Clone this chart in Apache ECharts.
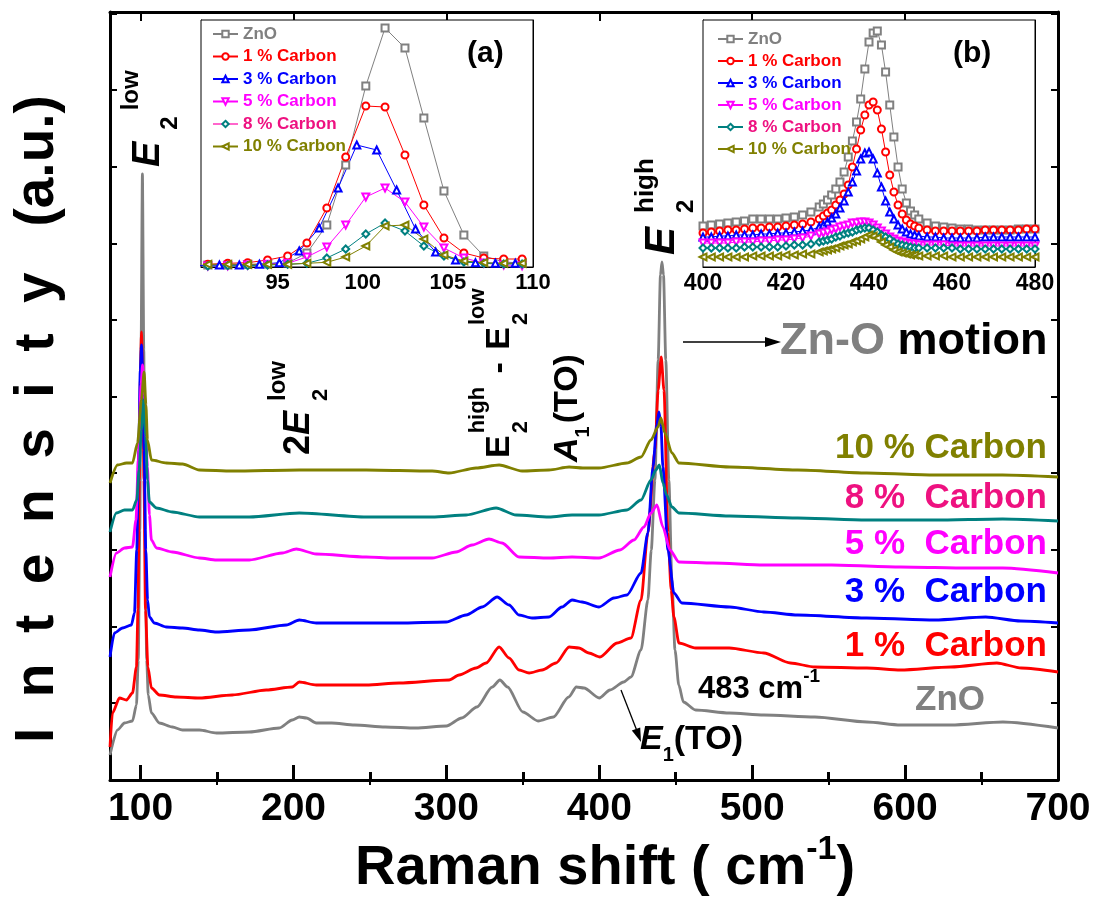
<!DOCTYPE html>
<html><head><meta charset="utf-8">
<script src="https://cdn.jsdelivr.net/npm/echarts@6/dist/echarts.min.js"></script>
<style>html,body{margin:0;padding:0;background:#fff}#c{width:1096px;height:905px}</style>
</head><body><div id="c"></div>
<script>
const FONT = "'Liberation Sans', Arial, Helvetica, sans-serif";

// ---- main Raman spectra: [Raman shift (cm-1), intensity (a.u., offset)] ----
const mainZnO = [[80,25],[84.9,50],[89.5,57],[94.7,59],[97.3,75],[98.5,120],[99.5,250],[100.3,430],[101.2,606],[102.1,430],[102.9,250],[104,120],[105,85],[107.1,67],[112.3,57],[120.8,53],[127.4,50],[138.5,50],[149.6,47],[171.1,48],[190.7,52],[199.2,60],[203.8,63],[208.5,62],[214.9,57],[225,57],[240,55],[260,53],[280,52],[300,54],[310,62],[320,73],[330,93],[335,100],[340,93],[350,68],[360,59],[370,63],[380,83],[385,93],[390,92],[400,82],[407,90],[416,98],[420.7,103],[427.3,130],[431.8,180],[434,230],[436.4,300],[438.5,420],[440,505],[441,518],[442,505],[443.5,420],[445.5,300],[447.5,200],[449.5,130],[452,95],[455,78],[463,70],[485,67],[507.6,65],[541,63],[575,58],[597,55],[630,55],[664,58],[700,52]];
const mainC1 = [[80,33],[81.6,67],[86.2,82],[90.8,80],[94.7,87],[97.3,113],[98.3,170],[99.2,300],[99.8,400],[100.6,448],[101.4,400],[102.2,300],[103.2,170],[104.8,113],[107.1,92],[112.3,85],[123.4,83],[138.5,82],[160,85],[182.2,90],[199.2,93],[203.8,98],[214.9,95],[247.6,95],[269.1,97],[301.8,100],[308.3,105],[319.4,112],[326,117],[334.5,133],[341,122],[347.5,110],[354.1,107],[362.6,110],[371.7,117],[380.3,133],[386.7,132],[393.2,127],[400.4,123],[411.6,137],[420.7,142],[427.3,180],[431.8,247],[436.4,330],[438.5,390],[440.5,423],[442.3,390],[444.9,247],[447,190],[448.8,163],[452.1,137],[463,132],[485,132],[507.6,127],[525,117],[541,113],[575,112],[597,110],[630,113],[660,117],[676,112],[700,108]];
const mainC3 = [[80,123],[82.9,147],[88.2,152],[94,155],[96,167],[97.5,230],[98.8,330],[99.8,410],[100.6,435],[101.4,410],[102.3,330],[103.4,230],[104.6,180],[105.8,163],[109,157],[116.9,153],[127.4,152],[138.5,150],[149.6,148],[171.1,150],[195.3,155],[203.8,160],[214.9,157],[247.6,157],[269.1,157],[299.8,158],[312.9,165],[323.4,173],[333.2,183],[341,175],[347.5,165],[356,162],[367.1,163],[375.6,173],[382.2,180],[388.7,178],[399.8,173],[409.6,182],[418.1,185],[427.3,207],[431.8,247],[435.1,313],[437.6,355],[439,368],[440.3,355],[441.6,313],[444.9,230],[448.8,187],[454,177],[485.4,173],[507.6,168],[529.8,165],[574.9,162],[619.4,160],[652.7,163],[675.6,159],[700,157]];
const mainC5 = [[80,203],[84.2,227],[89.5,232],[94.7,233],[97,260],[98.5,320],[100.3,395],[101.3,415],[102.5,385],[104.5,313],[105.8,265],[107.1,240],[110.4,232],[120.8,228],[138.5,222],[149.6,220],[171.1,220],[192.7,227],[201.8,231],[214.9,226],[247.6,223],[264.6,222],[290.7,222],[306.4,228],[316.8,235],[327.9,241],[336.4,237],[347.5,223],[367.1,222],[382.2,223],[399.8,222],[413.5,230],[422.7,240],[429.2,253],[433.8,267],[437.7,275],[441.6,253],[446.2,230],[452.1,218],[474.3,217],[507.6,215],[552,215],[597.1,213],[641.6,212],[663.8,212],[700,207]];
const mainC8 = [[80,248],[84.2,267],[89.5,270],[94.7,270],[97.5,280],[99,310],[100.5,350],[101.9,380],[103.3,345],[104.5,300],[105.8,278],[110.4,272],[120.8,268],[138.5,263],[171.1,263],[203.8,267],[247.6,263],[290.7,263],[312.9,265],[332.5,272],[345.6,265],[367.1,263],[382.2,265],[399.8,265],[418.1,270],[427.3,280],[433.8,300],[437,310],[439.3,315],[441.6,297],[444,285],[447.5,273],[452.1,267],[485.4,264],[529.8,262],[574.9,260],[619.4,260],[663.8,261],[700,259]];
const mainC10 = [[80,297],[84.9,315],[90.8,317],[94.7,317],[98,337],[100.5,380],[102.3,408],[103.5,375],[104.5,340],[107.1,320],[116.9,317],[127.4,316],[138.5,310],[160,309],[203.8,310],[247.6,310],[290.7,309],[301.8,307],[319.4,312],[334.5,315],[349.5,309],[367.1,310],[380.3,313],[389.3,312],[399.8,312],[418.1,317],[427.3,323],[433.8,340],[438.4,353],[440.3,362],[442.9,347],[447.5,327],[452.1,317],[485.4,313],[529.8,310],[574.9,307],[619.4,305],[663.8,305],[700,303]];

// ---- inset (a): E2 low region ----
const xA = [90.9,92.07,93.24,94.41,95.59,96.72,97.89,99.0,100.18,101.31,102.48,103.59,104.77,105.94,107.11,108.28,109.36];
const xA3 = [90.41,91.58,92.75,93.93,95.1,96.27,97.44,98.55,99.65,100.82,101.99,103.1,104.28,105.45,106.62,107.79,108.96];
const aZnO = [2,2,2.5,3,4,14,42,102,181,239,219,149,76,32,11,5,4];
const aC1  = [2.7,3.7,4.3,7,11,24,59,110,161,160,112,62,29,14,9,8,8];
const aC3  = [1.3,2,2,2.7,4.3,16,39,79,122,117,77,38,15,7,4.3,3.7,3.7];
const aC5  = [1,1.3,2,2.7,3.7,10,20,42,70,79,65,40,19,9,4,2,1.3];
const aC8  = [1,1.3,1.3,2,2.7,3.7,9,18,33,44,36,21,11,5,3.7,3,3];
const aC10 = [2.7,2.7,2.7,2.7,2.7,3.7,4.7,10,21,41,42,28,12,6,4.3,3.7,3.7];

// ---- inset (b): E2 high region ----
const xB = [400,402,404,406,408,410,412,414,416,418,420,422,424,426,428,
  429,430,431,432,433,434,435,436,437,438,439,440,441,442,443,444,445,446,447,448,449,450,451,452,
  454,456,458,460,462,464,466,468,470,472,474,476,478,480];
const bZnO = [41,42,43,44,45,46,48,48,48,48,49,50,52,55,60,
  63,67,72,78,85,95,110,126,145,168,198,225,234,236,222,195,162,130,100,78,64,56,52,48,
  44,41,40,39,38,38,37,37,37,37,37,38,38,38];
const bC1 = [34,35,36,37,37,38,39,39,40,40,41,42,43,45,48,
  51,54,57,62,67,73,82,100,118,137,152,162,165,157,138,115,92,75,62,53,47,43,41,39,
  37,36,36,36,36,36,36,37,37,37,37,37,38,38];
const bC3 = [30,30,31,31,32,32,32,33,33,34,34,35,36,37,40,
  42,45,49,53,59,66,75,85,96,108,114,115,108,94,80,66,55,48,42,38,35,33,32,31,
  30,30,29,29,29,29,29,30,30,30,30,30,30,30];
const bC5 = [24,24,24,24,25,25,25,26,26,27,27,28,29,31,33,
  34,35,37,38,40,41,42,44,44,45,45,44,42,39,36,33,30,28,26,25,24,23,23,22,
  22,22,22,21,21,21,21,21,21,21,21,21,21,21];
const bC8 = [19,19,19,19,19,20,20,20,20,20,21,22,22,23,25,
  26,27,28,30,31,33,34,35,37,38,39,39,37,35,32,30,28,25,23,22,21,20,19,19,
  19,19,19,19,18,18,18,18,18,18,18,18,18,18];
const bC10 = [10,10,10,10,10,10,11,11,11,11,12,12,13,13,15,
  16,17,18,19,21,22,23,25,26,28,30,32,31,29,25,22,20,17,15,14,13,12,12,11,
  11,11,11,10,10,10,10,10,10,10,10,10,10,10];

// ---- ticks ----
const xTicksMain = [100,200,300,400,500,600,700];
const xMinorMain = [150,250,350,450,550,650];
const yTicksMain = [77,153,230,307,383,460,536,613,690,766];
const xTicksA = [95,100,105,110];
const yTicksA = [9,42,74,107,140,174,207,240];
const xLabelsB = [400,420,440,460,480];
const xTicksB = [400,410,420,430,440,450,460,470,480];
const yTicksB = [5,40,74,109,144,178,212,247];

const NAMES = ['ZnO','1 % Carbon','3 % Carbon','5 % Carbon','8 % Carbon','10 % Carbon'];
const COLORS = ['#808080','#ff0000','#0000ff','#ff00ff','#008080','#808000'];
const TXTCOL = ['#808080','#ff0000','#0000ff','#ff00ff','#ee1180','#808000'];
const SYMB = ['emptyRect','emptyCircle','emptyTriangle','emptyTriangle','emptyDiamond','emptyTriangle'];
const SROT = [0,0,0,180,0,90];

const zip = (xs, ys) => xs.map((x, i) => [x, ys[i]]);
const mainData = [mainZnO, mainC1, mainC3, mainC5, mainC8, mainC10];
const aData = [zip(xA,aZnO), zip(xA,aC1), zip(xA3,aC3), zip(xA,aC5), zip(xA,aC8), zip(xA,aC10)];
const bData = [bZnO,bC1,bC3,bC5,bC8,bC10].map(v => zip(xB, v));

const series = [];
mainData.forEach((d, i) => series.push({
  type: 'line', name: NAMES[i] + ' spectrum', xAxisIndex: 0, yAxisIndex: 0, data: d,
  showSymbol: false, symbol: 'none', smooth: 0.25, smoothMonotone: 'x',
  lineStyle: { color: COLORS[i], width: 2.8 }, itemStyle: { color: COLORS[i] }, z: 3
}));
aData.forEach((d, i) => series.push({
  type: 'line', name: NAMES[i], xAxisIndex: 4, yAxisIndex: 2, data: d,
  symbol: SYMB[i], symbolRotate: SROT[i], symbolSize: 7, showAllSymbol: true,
  lineStyle: { color: COLORS[i], width: 1 }, itemStyle: { color: COLORS[i], borderWidth: 1.2 }, z: 5
}));
bData.forEach((d, i) => series.push({
  type: 'line', name: NAMES[i], xAxisIndex: 5, yAxisIndex: 4, data: d,
  symbol: SYMB[i], symbolRotate: SROT[i], symbolSize: 7, showAllSymbol: true,
  lineStyle: { color: COLORS[i], width: 1 }, itemStyle: { color: COLORS[i], borderWidth: 1.2 }, z: 5
}));

// ---- text layout helper ----
const cv = document.createElement('canvas').getContext('2d');
function tw(t, f) { cv.font = f; return cv.measureText(t).width; }
function seq(x0, y0, rot, parts) {
  const ax = Math.cos(rot), ay = -Math.sin(rot), nx = Math.sin(rot), ny = Math.cos(rot);
  let prevStart = 0, maxEnd = 0; const out = [];
  parts.forEach(p => {
    const font = (p.it ? 'italic ' : '') + 'bold ' + p.s + 'px ' + FONT;
    const w = tw(p.t, font);
    const start = (p.stack ? prevStart : maxEnd) + (p.g || 0);
    const off = (p.sh || 0) - 0.35 * p.s;
    out.push({ type: 'text', x: x0 + ax * start + nx * off, y: y0 + ay * start + ny * off, rotation: rot, z: 50,
      style: { text: p.t, font: font, fill: p.c || '#000', align: 'left', verticalAlign: 'middle' } });
    prevStart = start; maxEnd = Math.max(maxEnd, start + w);
  });
  return out;
}
const R = Math.PI / 2;
let graphics = [];
graphics = graphics.concat(
  seq(162, 167, R, [{t:'E', s:38, it:true}, {t:'2', s:24, sh:17, g:12}, {t:'low', s:24, sh:-22, g:6}]),
  seq(312, 455, R, [{t:'2', s:36}, {t:'E', s:36, it:true}, {t:'2', s:22, sh:17, g:10}, {t:'low', s:24, sh:-25, stack:true}]),
  seq(512, 458, R, [{t:'E', s:34}, {t:'2', s:22, sh:17, g:2}, {t:'high', s:22, sh:-26, stack:true}, {t:' - ', s:34, g:4}, {t:'E', s:34, g:3}, {t:'2', s:22, sh:17, g:2}, {t:'low', s:22, sh:-26, stack:true}]),
  seq(580, 462, R, [{t:'A', s:34, it:true}, {t:'1', s:20, sh:10}, {t:'(TO)', s:34, g:3}]),
  seq(677, 255, R, [{t:'E', s:42, it:true}, {t:'2', s:24, sh:18, g:14}, {t:'high', s:26, sh:-22, stack:true}]),
  seq(780, 357, 0, [{t:'Zn-O', s:45, c:'#808080'}, {t:' motion', s:45}]),
  seq(698, 700, 0, [{t:'483 cm', s:31}, {t:'-1', s:19, sh:-17}]),
  seq(640, 752, 0, [{t:'E', s:34, it:true}, {t:'1', s:20, sh:10}, {t:'(TO)', s:34}]),
  seq(467, 64, 0, [{t:'(a)', s:30}]),
  seq(953, 64, 0, [{t:'(b)', s:30}]),
  seq(355, 888, 0, [{t:'Raman shift ( cm', s:56}, {t:'-1', s:34, sh:-26}, {t:')', s:56}])
);
// right-side sample labels
const sideLabels = [['10 % Carbon', 461, '#808000'], ['8 %  Carbon', 511, '#ee1180'], ['5 %  Carbon', 557, '#ff00ff'], ['3 %  Carbon', 605, '#0000ff'], ['1 %  Carbon', 659, '#ff0000']];
sideLabels.forEach(([t, b, c]) => {
  const w = tw(t, 'bold 35px ' + FONT);
  graphics = graphics.concat(seq(1047 - w, b, 0, [{t, s:35, c}]));
});
graphics = graphics.concat(seq(915, 713, 0, [{t:'ZnO', s:35, c:'#808080'}]));
// y-axis title
const yTitle = 'I  n  t  e  n  s  i  t  y   (a.u.)';
const yW = tw(yTitle, 'bold 54px ' + FONT);
graphics = graphics.concat(seq(57, 425 + yW / 2, R, [{t: yTitle, s:55}]));
// arrows
graphics.push({ type:'line', z:50, shape:{x1:683, y1:342, x2:768, y2:342}, style:{stroke:'#000', lineWidth:1.5} });
graphics.push({ type:'polygon', z:50, shape:{points:[[781,342],[765,337],[765,347]]}, style:{fill:'#000'} });
graphics.push({ type:'line', z:50, shape:{x1:621, y1:690, x2:637, y2:731}, style:{stroke:'#000', lineWidth:1.3} });
graphics.push({ type:'polygon', z:50, shape:{points:[[641,742],[631.8,730.6],[640.2,727.4]]}, style:{fill:'#000'} });

const black = '#000';
function xAx(o) {
  return Object.assign({ type:'value', splitLine:{show:false}, axisLine:{show:true, onZero:false, lineStyle:{color:black, width:3}},
    axisTick:{show:true, inside:true}, axisLabel:{show:false} }, o);
}
const lblMain = { show:true, customValues: xTicksMain, color:black, fontSize:39, fontWeight:'bold', fontFamily:FONT, margin:10 };
const legendText = { fontSize:17, fontWeight:'bold', fontFamily:FONT, lineHeight:18 };
function legendData(pinkLine) {
  return NAMES.map((n, i) => {
    const o = { name:n, textStyle:{ color: TXTCOL[i] } };
    if (pinkLine && i === 4) o.lineStyle = { color:'#ff66cc' };
    return o;
  });
}

const option = {
  animation: false,
  backgroundColor: '#fff',
  grid: [
    { left:110, top:12, width:948, height:768, outerBoundsMode:'none', containLabel:false },
    { left:201, top:20, width:332, height:247, show:true, backgroundColor:'#fff', borderColor:black, borderWidth:1, outerBoundsMode:'none', containLabel:false, z:4 },
    { left:703, top:20, width:332, height:247, show:true, backgroundColor:'#fff', borderColor:black, borderWidth:1, outerBoundsMode:'none', containLabel:false, z:4 }
  ],
  xAxis: [
    xAx({ gridIndex:0, min:80, max:700, position:'bottom', axisTick:{show:true, inside:true, length:15, customValues:xTicksMain, lineStyle:{color:black, width:3}}, axisLabel:lblMain }),
    xAx({ gridIndex:0, min:80, max:700, position:'bottom', axisLine:{show:false}, axisTick:{show:true, inside:true, length:8, customValues:xMinorMain, lineStyle:{color:black, width:3}} }),
    xAx({ gridIndex:0, min:80, max:700, position:'top', axisTick:{show:true, inside:true, length:9, customValues:xTicksMain, lineStyle:{color:black, width:2}} }),
    xAx({ gridIndex:0, min:80, max:700, position:'top', axisLine:{show:false}, axisTick:{show:true, inside:true, length:5, customValues:xMinorMain, lineStyle:{color:black, width:2}} }),
    xAx({ gridIndex:1, min:90.5, max:110, position:'bottom', axisLine:{show:true, onZero:false, lineStyle:{color:black, width:1}},
      axisTick:{show:true, inside:true, length:4, customValues:xTicksA, lineStyle:{color:black, width:1}},
      axisLabel:{show:true, customValues:xTicksA, color:black, fontSize:22, fontWeight:'bold', fontFamily:FONT, margin:5} }),
    xAx({ gridIndex:2, min:400, max:480, position:'bottom', axisLine:{show:true, onZero:false, lineStyle:{color:black, width:1}},
      axisTick:{show:true, inside:true, length:4, customValues:xTicksB, lineStyle:{color:black, width:1}},
      axisLabel:{show:true, customValues:xLabelsB, color:black, fontSize:23, fontWeight:'bold', fontFamily:FONT, margin:5} })
  ],
  yAxis: [
    xAx({ gridIndex:0, min:0, max:768, position:'left', axisTick:{show:true, inside:true, length:7, customValues:yTicksMain, lineStyle:{color:black, width:2}} }),
    xAx({ gridIndex:0, min:0, max:768, position:'right', axisTick:{show:true, inside:true, length:7, customValues:yTicksMain, lineStyle:{color:black, width:2}} }),
    xAx({ gridIndex:1, min:0, max:247, position:'left', axisLine:{show:true, onZero:false, lineStyle:{color:black, width:1}}, axisTick:{show:true, inside:true, length:4, customValues:yTicksA, lineStyle:{color:black, width:1}} }),
    xAx({ gridIndex:1, min:0, max:247, position:'right', axisLine:{show:true, onZero:false, lineStyle:{color:black, width:1}}, axisTick:{show:true, inside:true, length:4, customValues:yTicksA, lineStyle:{color:black, width:1}} }),
    xAx({ gridIndex:2, min:0, max:247, position:'left', axisLine:{show:true, onZero:false, lineStyle:{color:black, width:1}}, axisTick:{show:true, inside:true, length:4, customValues:yTicksB, lineStyle:{color:black, width:1}} }),
    xAx({ gridIndex:2, min:0, max:247, position:'right', axisLine:{show:true, onZero:false, lineStyle:{color:black, width:1}}, axisTick:{show:true, inside:true, length:4, customValues:yTicksB, lineStyle:{color:black, width:1}} })
  ],
  legend: [
    { orient:'vertical', left:207, top:20, itemWidth:25, itemHeight:8, itemGap:4.5, selectedMode:false, textStyle:legendText, data:legendData(true), z:20 },
    { orient:'vertical', left:712, top:25, itemWidth:25, itemHeight:8, itemGap:4, selectedMode:false, textStyle:legendText, data:legendData(false), z:20 }
  ],
  series: series,
  graphic: graphics
};
const chart = echarts.init(document.getElementById('c'), null, { renderer:'canvas' });
chart.setOption(option);
</script>
</body></html>
